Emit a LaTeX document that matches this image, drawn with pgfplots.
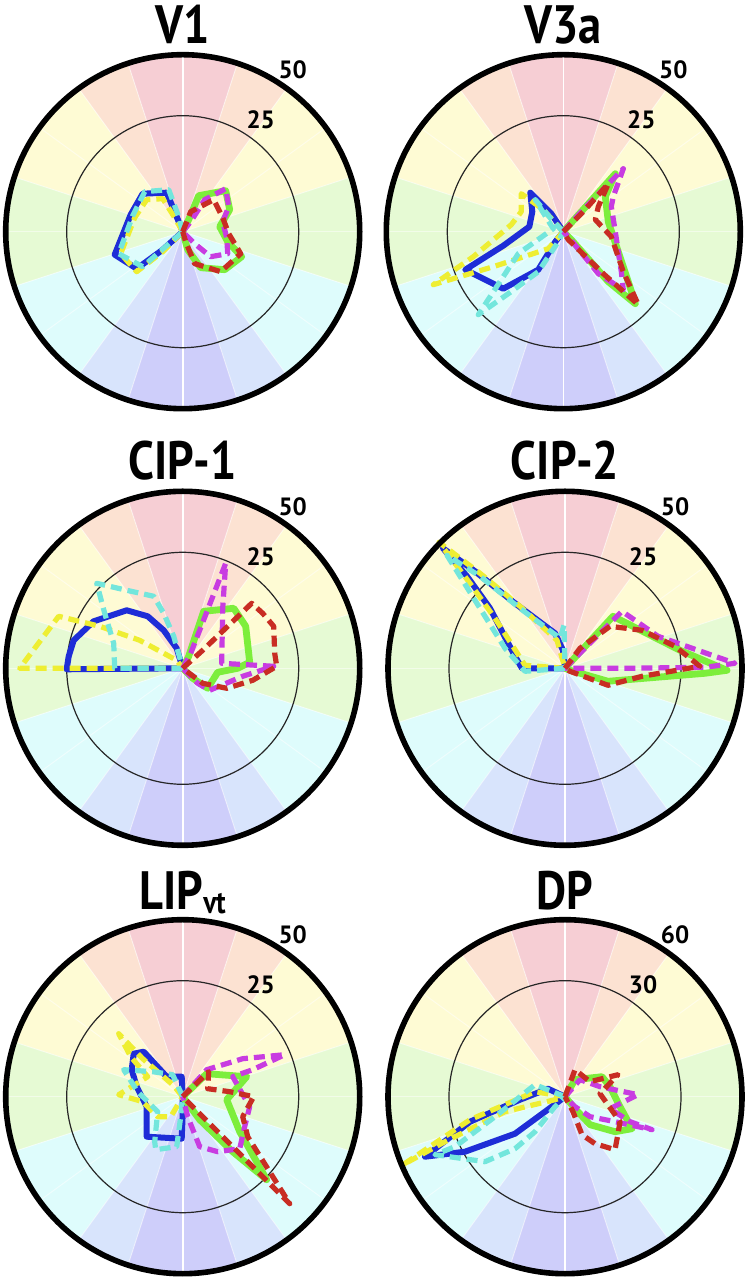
\documentclass[border=0pt]{standalone}
\usepackage{pgfplots}
\pgfplotsset{compat=1.18}
\usepackage{graphicx}
\usepackage{fontspec}
\setmainfont{PT Sans}
\definecolor{cred}{RGB}{246,206,212}
\definecolor{cpeach}{RGB}{252,226,210}
\definecolor{cyel}{RGB}{254,251,212}
\definecolor{cgreen}{RGB}{230,250,212}
\definecolor{ccyan}{RGB}{222,252,252}
\definecolor{cblue}{RGB}{216,228,252}
\definecolor{cpurp}{RGB}{206,206,250}
\definecolor{dblue}{RGB}{30,45,215}
\definecolor{dcyan}{RGB}{115,230,220}
\definecolor{dyel}{RGB}{238,238,50}
\definecolor{dgreen}{RGB}{125,238,60}
\definecolor{dred}{RGB}{200,45,35}
\definecolor{dmag}{RGB}{200,60,225}
\newcommand{\ttl}{\fontsize{27}{30}\selectfont\bfseries}
\newcommand{\lab}{\fontsize{12.5}{14}\selectfont\bfseries}
\newcommand{\panelbg}[2]{%
 \begin{scope}[shift={(#1pt,#2pt)}]
 \foreach \a/\b/\c in {72/108/cred,108/126/cpeach,54/72/cpeach,126/162/cyel,18/54/cyel,162/198/cgreen,-18/18/cgreen,198/234/ccyan,306/342/ccyan,234/252/cblue,288/306/cblue,252/288/cpurp}{%
   \fill[\c] (0,0) -- (\a:88.5pt) arc[start angle=\a,end angle=\b,radius=88.5pt] -- cycle;}
 \foreach \a in {0,18,...,342}{\draw[white,opacity=0.5,line width=0.5pt] (0,0) -- (\a:88.5pt);}
 \draw[white,line width=0.8pt] (0,-88.5pt) -- (0,88.5pt);
 \draw[black!85,line width=0.6pt] (0,0) circle[radius=58pt];
 \end{scope}}
\newcommand{\panelfg}[6]{%
 \begin{scope}[shift={(#1pt,#2pt)}]
 \draw[black,line width=2.8pt] (0,0) circle[radius=88.5pt];
 \node[font=\lab] at (55pt,81pt) {#5};
 \node[font=\lab] at (39pt,56pt) {#6};
 \end{scope}
 \node[anchor=base,font=\ttl] at (#1pt,#3pt) {\scalebox{0.86}[1]{#4}};}
\pgfplotsset{
 panel/.style={hide axis,clip=false,scale only axis,width=200pt,height=200pt,
   xmin=-200,xmax=200,ymin=-200,ymax=200,anchor=center},
 sb/.style={draw=dblue,line width=3pt,line join=round,no markers},
 sg/.style={draw=dgreen,line width=3.4pt,line join=round,no markers},
 sy/.style={draw=dyel,line width=2.6pt,line join=round,dash pattern=on 5.5pt off 3pt,no markers},
 sc/.style={draw=dcyan,line width=2.6pt,line join=round,dash pattern=on 5.5pt off 3pt,no markers},
 sm/.style={draw=dmag,line width=2.6pt,line join=round,dash pattern=on 5.5pt off 3pt,no markers},
 sr/.style={draw=dred,line width=2.6pt,line join=round,dash pattern=on 5.5pt off 3pt,no markers},
}
\begin{document}
\begin{tikzpicture}
\useasboundingbox (0,0) rectangle (373.5pt,640pt);
% ---------------- V1
\panelbg{91.35}{524.15}
\begin{axis}[panel,at={(91.35pt,524.15pt)}]
\addplot[sb] coordinates {(0,0) (-6,15) (-16,39) (-40,38) (-52,17) (-68,-23) (-46,-37) (-20,-18) (0,0)};
\addplot[sg] coordinates {(0,0) (6,12) (16,36) (43,41) (47,22) (37,5) (45,-10) (59,-25) (42,-38) (18,-36) (5,-18) (0,0)};
\addplot[sy] coordinates {(0,0) (-8,14) (-20,33) (-36,32) (-48,14) (-62,-22) (-46,-40) (-20,-20) (0,0)};
\addplot[sc] coordinates {(0,0) (-4,15) (-14,42) (-38,40) (-50,16) (-64,-22) (-40,-35) (-16,-14) (0,0)};
\addplot[sm] coordinates {(0,0) (8,10) (22,32) (43,43) (46,25) (40,10) (44,-6) (45,-22) (28,-25) (12,-12) (0,0)};
\addplot[sr] coordinates {(0,0) (8,20) (31,32) (40,14) (46,-2) (58,-22) (38,-40) (12,-32) (3,-10) (0,0)};
\end{axis}
\panelfg{91.35}{524.15}{618}{V1}{50}{25}
% ---------------- V3a
\panelbg{281.65}{524.15}
\begin{axis}[panel,at={(281.65pt,524.15pt)}]
\addplot[sb] coordinates {(0,0) (-12,18) (-33,39) (-31,20) (-34,5) (-60,-14) (-98,-38) (-60,-57) (-25,-38) (-8,-10) (0,0)};
\addplot[sg] coordinates {(0,0) (52,58) (42,35) (45,10) (65,-50) (72,-72) (45,-50) (8,-8) (0,0)};
\addplot[sy] coordinates {(0,0) (-20,22) (-42,38) (-42,20) (-52,7) (-90,-25) (-130,-53) (-70,-35) (-15,-17) (0,0)};
\addplot[sc] coordinates {(0,0) (-10,10) (-28,32) (-17,14) (-10,3) (-45,-22) (-85,-83) (-55,-62) (-25,-40) (-5,-10) (0,0)};
\addplot[sm] coordinates {(0,0) (20,22) (60,63) (50,35) (48,25) (52,0) (58,-40) (60,-58) (35,-42) (5,-5) (0,0)};
\addplot[sr] coordinates {(0,0) (20,20) (45,48) (35,25) (32,12) (48,-5) (60,-40) (75,-73) (40,-42) (5,-8) (0,0)};
\end{axis}
\panelfg{281.65}{524.15}{618}{V3a}{50}{25}
% ---------------- CIP-1
\panelbg{91.35}{305.85}
\begin{axis}[panel,at={(91.35pt,305.85pt)}]
\addplot[sb] coordinates {(0,0) (-116,-1) (-114,12) (-109,28) (-89,47) (-56,58) (-35,52) (-19,38) (-6,20) (0,0)};
\addplot[sg] coordinates {(0,0) (6,12) (21,57) (51,60) (63,42) (67,6) (55,0) (35,-4) (25,-20) (10,-10) (0,0)};
\addplot[sy] coordinates {(0,0) (-163,0) (-124,52) (-83,42) (-43,28) (-6,8) (0,0)};
\addplot[sc] coordinates {(0,0) (-68,0) (-69,25) (-78,55) (-86,85) (-56,78) (-29,72) (-19,55) (-9,32) (0,0)};
\addplot[sm] coordinates {(0,0) (8,15) (43,105) (40,60) (39,5) (91,2) (60,-8) (27,-22) (15,-15) (0,0)};
\addplot[sr] coordinates {(0,0) (20,18) (69,65) (80,55) (91,42) (92,15) (94,2) (70,-12) (44,-20) (20,-15) (0,0)};
\end{axis}
\panelfg{91.35}{305.85}{400}{CIP-1}{50}{25}
% ---------------- CIP-2
\panelbg{282.5}{305.85}
\begin{axis}[panel,at={(282.5pt,305.85pt)}]
\addplot[sb] coordinates {(0,0) (-43,0) (-50,12) (-75,60) (-98,92) (-122,120) (-90,97) (-50,65) (-10,35) (-2,18) (0,0)};
\addplot[sg] coordinates {(0,0) (48,52) (115,18) (162,-2) (140,-5) (43,-13) (5,-2) (0,0)};
\addplot[sy] coordinates {(0,0) (-40,3) (-70,50) (-95,85) (-126,126) (-85,95) (-45,62) (-8,28) (0,0)};
\addplot[sc] coordinates {(0,0) (-40,-3) (-60,20) (-85,60) (-118,113) (-85,92) (-45,60) (-5,30) (-1,43) (0,0)};
\addplot[sm] coordinates {(0,0) (57,57) (93,32) (170,5) (140,1) (60,0) (5,0) (0,0)};
\addplot[sr] coordinates {(0,0) (15,20) (45,42) (77,38) (110,22) (135,2) (77,-8) (43,-17) (5,-3) (0,0)};
\end{axis}
\panelfg{282.5}{305.85}{400}{CIP-2}{50}{25}
% ---------------- LIPvt
\panelbg{91.35}{91.65}
\begin{axis}[panel,at={(91.35pt,91.65pt)}]
\addplot[sb] coordinates {(0,0) (-1,20) (-16,20) (-39,45) (-49,43) (-51,27) (-46,10) (-36,-10) (-36,-40) (-1,-42) (0,-17) (0,0)};
\addplot[sg] coordinates {(0,0) (24,23) (64,20) (44,-3) (57,-35) (84,-83) (50,-55) (17,-23) (0,0)};
\addplot[sy] coordinates {(0,0) (-10,12) (-40,38) (-64,63) (-52,40) (-35,20) (-64,2) (-40,-5) (-25,-20) (-12,-20) (0,0)};
\addplot[sc] coordinates {(0,0) (-10,22) (-30,25) (-59,27) (-45,5) (-25,-15) (-28,-45) (-27,-53) (-6,-50) (-2,-20) (0,0)};
\addplot[sm] coordinates {(0,0) (24,27) (60,38) (102,42) (70,27) (50,20) (67,-10) (62,-30) (57,-52) (35,-55) (17,-50) (5,-20) (0,0)};
\addplot[sr] coordinates {(0,0) (26,25) (25,8) (47,5) (71,0) (60,-20) (65,-40) (107,-107) (0,0)};
\end{axis}
\panelfg{91.35}{91.65}{185}{LIP\raisebox{-2pt}{\fontsize{16}{16}\selectfont vt}}{50}{25}
% ---------------- DP
\panelbg{282.5}{91.65}
\begin{axis}[panel,at={(282.5pt,91.65pt)}]
\addplot[sb] coordinates {(0,0) (-17,8) (-45,-3) (-95,-25) (-140,-60) (-100,-55) (-50,-37) (-20,-15) (0,0)};
\addplot[sg] coordinates {(0,0) (10,17) (37,20) (45,10) (55,-10) (67,-32) (50,-35) (25,-28) (10,-12) (0,0)};
\addplot[sy] coordinates {(0,0) (-30,5) (-95,-23) (-162,-68) (-120,-45) (-60,-15) (-10,-3) (0,0)};
\addplot[sc] coordinates {(0,0) (-30,12) (-70,-20) (-110,-50) (-130,-58) (-80,-65) (-50,-52) (-30,-35) (-10,-10) (0,0)};
\addplot[sm] coordinates {(0,0) (15,17) (35,10) (73,2) (45,-12) (65,-25) (87,-33) (50,-25) (25,-20) (10,-10) (0,0)};
\addplot[sr] coordinates {(0,0) (10,27) (25,15) (53,22) (35,3) (55,-25) (53,-37) (50,-53) (30,-47) (17,-38) (8,-15) (0,0)};
\end{axis}
\panelfg{282.5}{91.65}{185}{DP}{60}{30}
\end{tikzpicture}
\end{document}
